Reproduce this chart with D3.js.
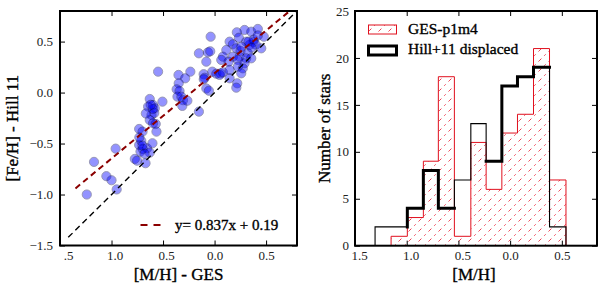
<!DOCTYPE html>
<html>
<head>
  <meta charset="utf-8"><script src="https://d3js.org/d3.v7.min.js"></script>
  <style>
    body { margin: 0; background: white; }
  </style>
</head>
<body>
  <svg id="mychart" width="600" height="285" style="background: white"></svg>
<script>
  // left panel: GES [M/H] vs Hill+11 [Fe/H]
  const gesMH = [
    -1.24, -1.17, -1.05, -1.00, -0.96, -0.95,
    -0.774, -0.752, -0.670, -0.732, -0.699, -0.732, -0.711, -0.719, -0.697, -0.655, -0.603, -0.629, -0.70, -0.68, -0.73,
    -0.629, -0.645, -0.597, -0.580, -0.506, -0.612, -0.585, -0.629, -0.597, -0.571, -0.564, -0.667, -0.60, -0.62,
    -0.548, -0.350, -0.235, -0.285, -0.348, -0.368, -0.340, -0.360, -0.322, -0.306, -0.313, -0.264, -0.152,
    -0.038, -0.152, -0.064, -0.042, -0.080, -0.106, -0.097, -0.022, -0.080, -0.055, 0.017, 0.058, -0.105,
    0.291, 0.216, 0.356, 0.420, 0.478, 0.378, 0.339, 0.236, 0.146, 0.178, 0.307, 0.453, 0.114, 0.211, 0.252,
    0.081, 0.065, 0.178, 0.242, 0.323, 0.307, 0.356, 0.136, 0.226, 0.291, 0.049, 0.081, 0.146, 0.226, 0.274,
    0.259, 0.146, 0.220, 0.211, 0.38, 0.40, 0.33, 0.36, 0.26, 0.42
  ]
  const hillFeH = [
    -1.00, -0.68, -0.82, -0.86, -0.55, -0.95,
    -0.651, -0.668, -0.693, -0.357, -0.383, -0.514, -0.475, -0.579, -0.553, -0.546, -0.497, -0.589, -0.52, -0.60, -0.44,
    -0.063, -0.138, -0.122, -0.154, -0.089, -0.220, -0.200, -0.269, -0.301, -0.308, -0.383, -0.205, -0.16, -0.12,
    0.205, 0.173, 0.205, 0.140, 0.091, 0.032, 0.015, -0.040, -0.040, -0.075, -0.131, -0.080, -0.187,
    0.548, 0.385, 0.395, 0.405, 0.303, 0.180, 0.145, 0.205, 0.040, 0.018, 0.185, 0.188, 0.130,
    0.614, 0.591, 0.597, 0.624, 0.548, 0.496, 0.467, 0.538, 0.499, 0.474, 0.499, 0.434, 0.418, 0.434, 0.408,
    0.352, 0.320, 0.352, 0.352, 0.385, 0.336, 0.336, 0.303, 0.320, 0.287, 0.173, 0.199, 0.222, 0.254, 0.238,
    0.189, 0.140, 0.091, 0.048, 0.52, 0.47, 0.50, 0.44, 0.45, 0.56
  ]
  const fitSlope = 0.837
  const fitIntercept = 0.19
  const fitRange = [-1.35, 0.9]
  const oneToOneRange = [-1.42, 0.9]
  const fitLabel = "y= 0.837x + 0.19"

  // right panel: histograms
  const binEdges = [-1.306, -1.151, -0.994, -0.839, -0.694, -0.539, -0.380, -0.232, -0.080, 0.071, 0.226, 0.381, 0.540]
  const gesCounts = [0, 1, 3, 9, 18, 1, 11, 6, 12, 14, 21, 7]
  const hillCounts = [2, 2, 4, 8, 4, 7, 13, 9, 17, 18, 19, 2]

  const scatterTicks = [-1.5, -1.0, -0.5, 0.0, 0.5]
  const scatterXLabels = [".5", "1.0", "0.5", "0.0", "0.5"]
  const scatterYLabels = ["\u22121.5", "\u22121.0", "\u22120.5", "0.0", "0.5"]
  const histXTicks = [-1.5, -1.0, -0.5, 0.0, 0.5]
  const histXLabels = ["1.5", "1.0", "0.5", "0.0", "0.5"]
  const histYTicks = [0, 5, 10, 15, 20, 25]

  const serif = "'Liberation Serif', serif"

  const svg = d3.select("#mychart")
  const defs = svg.append("defs")

  const label = (sel, size) => sel.style("font-family", serif).attr("font-size", size).attr("fill", "black")
  const heavy = sel => sel.attr("stroke", "black").attr("stroke-width", 0.35)

  // ---------- left panel ----------
  const L = {left: 60, right: 297, top: 11, bottom: 245.5}
  const x1 = d3.scaleLinear().domain([-1.5, 0.8]).range([L.left, L.right])
  const y1 = d3.scaleLinear().domain([-1.5, 0.8]).range([L.bottom, L.top])

  defs.append("clipPath").attr("id", "clipL").append("rect")
    .attr("x", L.left).attr("y", L.top).attr("width", L.right - L.left).attr("height", L.bottom - L.top)

  const lp = svg.append("g").attr("clip-path", "url(#clipL)")

  lp.selectAll("circle")
    .data(gesMH.map((v, i) => [v, hillFeH[i]]))
    .join("circle")
      .attr("cx", d => x1(d[0]))
      .attr("cy", d => y1(d[1]))
      .attr("r", 4.6)
      .attr("fill", "#0000ff")
      .attr("stroke", "#000040")
      .attr("stroke-width", 0.9)
      .attr("opacity", 0.42)

  const line1 = d3.line().x(d => x1(d[0])).y(d => y1(d[1]))
  lp.append("path")
    .datum(oneToOneRange.map(v => [v, v]))
    .attr("fill", "none").attr("stroke", "black").attr("stroke-width", 1.4)
    .attr("stroke-dasharray", "6,4")
    .attr("d", line1)
  lp.append("path")
    .datum(fitRange.map(v => [v, fitSlope * v + fitIntercept]))
    .attr("fill", "none").attr("stroke", "#8b0000").attr("stroke-width", 2)
    .attr("stroke-dasharray", "6,4")
    .attr("d", line1)

  const tickStyle = g => {
    g.select(".domain").remove()
    g.selectAll(".tick line").attr("stroke", "black").attr("stroke-width", 1)
    g.selectAll(".tick text").call(label, 13).attr("fill", "#222")
  }

  svg.append("g").attr("transform", `translate(0,${L.bottom})`)
    .call(d3.axisBottom(x1).tickValues(scatterTicks).tickSize(-5).tickPadding(5)
      .tickFormat((d, i) => scatterXLabels[i]))
    .call(tickStyle)
    .call(g => g.selectAll(".tick text").attr("dx", (d, i) => i === 0 ? 8 : (d < 0 ? 3 : 0)))
  svg.append("g").attr("transform", `translate(0,${L.top})`)
    .call(d3.axisTop(x1).tickValues(scatterTicks).tickSize(-5).tickFormat(""))
    .call(tickStyle)
  svg.append("g").attr("transform", `translate(${L.left},0)`)
    .call(d3.axisLeft(y1).tickValues(scatterTicks).tickSize(-5).tickPadding(7)
      .tickFormat((d, i) => scatterYLabels[i]))
    .call(tickStyle)
  svg.append("g").attr("transform", `translate(${L.right},0)`)
    .call(d3.axisRight(y1).tickValues(scatterTicks).tickSize(-5).tickFormat(""))
    .call(tickStyle)

  svg.append("rect")
    .attr("x", L.left).attr("y", L.top).attr("width", L.right - L.left).attr("height", L.bottom - L.top)
    .attr("fill", "none").attr("stroke", "black").attr("stroke-width", 2)

  // legend (left)
  svg.append("line")
    .attr("x1", 140.5).attr("x2", 162).attr("y1", 225).attr("y2", 225)
    .attr("stroke", "#8b0000").attr("stroke-width", 2).attr("stroke-dasharray", "7,6")
  svg.append("text").attr("x", 175).attr("y", 230).call(label, 15).call(heavy).text(fitLabel)

  svg.append("text")
    .attr("transform", `translate(18,${(L.top + L.bottom) / 2}) rotate(-90)`)
    .attr("text-anchor", "middle").call(label, 17).call(heavy)
    .text("[Fe/H] - Hill 11")
  svg.append("text")
    .attr("x", (L.left + L.right) / 2).attr("y", 280)
    .attr("text-anchor", "middle").call(label, 17).call(heavy)
    .text("[M/H] - GES")

  // ---------- right panel ----------
  const R = {left: 355, right: 597, top: 11, bottom: 245.7}
  const x2 = d3.scaleLinear().domain([-1.5, 0.84]).range([R.left, R.right])
  const y2 = d3.scaleLinear().domain([0, 25]).range([R.bottom, R.top])

  const hatch = defs.append("pattern").attr("id", "hatch")
    .attr("patternUnits", "userSpaceOnUse").attr("width", 10).attr("height", 10)
  hatch.append("path")
    .attr("d", "M-2,2 L2,-2 M0,10 L10,0 M8,12 L12,8")
    .attr("stroke", "#e8001a").attr("stroke-width", 0.9).attr("stroke-opacity", 0.85)
    .attr("stroke-dasharray", "2,4")

  const step = d3.line().x(d => x2(d[0])).y(d => y2(d[1])).curve(d3.curveStepAfter)
  const stepPoints = (counts, from, to) => {
    const pts = [[binEdges[from], 0]]
    for (let i = from; i <= to; i++) pts.push([binEdges[i], counts[i]])
    pts.push([binEdges[to + 1], counts[to]], [binEdges[to + 1], 0])
    return pts
  }

  const gesPts = stepPoints(gesCounts, 1, gesCounts.length - 1)
  svg.append("path").datum(gesPts).attr("fill", "url(#hatch)").attr("stroke", "none").attr("d", step)
  svg.append("path").datum(gesPts).attr("fill", "none").attr("stroke", "#e0101e").attr("stroke-width", 1).attr("d", step)

  svg.append("path").datum(stepPoints(hillCounts, 0, hillCounts.length - 1))
    .attr("fill", "none").attr("stroke", "black").attr("stroke-width", 1.1).attr("d", step)

  // heavier parts of the Hill+11 outline
  const thickRuns = [[2, 4, true], [7, 10, false]]
  thickRuns.forEach(([a, b, withLeft]) => {
    const pts = [[binEdges[a], withLeft ? hillCounts[a - 1] : hillCounts[a]]]
    for (let i = a; i <= b; i++) pts.push([binEdges[i], hillCounts[i]])
    pts.push([binEdges[b + 1], hillCounts[b]])
    svg.append("path").datum(pts)
      .attr("fill", "none").attr("stroke", "black").attr("stroke-width", 3)
      .attr("stroke-linecap", "square").attr("d", step)
  })

  svg.append("g").attr("transform", `translate(0,${R.bottom})`)
    .call(d3.axisBottom(x2).tickValues(histXTicks).tickSize(-5).tickPadding(5)
      .tickFormat((d, i) => histXLabels[i]))
    .call(tickStyle)
    .call(g => g.selectAll(".tick text").attr("dx", d => d < 0 ? 4 : 0))
  svg.append("g").attr("transform", `translate(0,${R.top})`)
    .call(d3.axisTop(x2).tickValues(histXTicks).tickSize(-5).tickFormat(""))
    .call(tickStyle)
  svg.append("g").attr("transform", `translate(${R.left},0)`)
    .call(d3.axisLeft(y2).tickValues(histYTicks).tickSize(-5).tickPadding(6))
    .call(tickStyle)
  svg.append("g").attr("transform", `translate(${R.right},0)`)
    .call(d3.axisRight(y2).tickValues(histYTicks).tickSize(-5).tickFormat(""))
    .call(tickStyle)

  svg.append("rect")
    .attr("x", R.left).attr("y", R.top).attr("width", R.right - R.left).attr("height", R.bottom - R.top)
    .attr("fill", "none").attr("stroke", "black").attr("stroke-width", 2)

  // legend (right)
  svg.append("rect").attr("x", 368.5).attr("y", 25).attr("width", 28).attr("height", 9)
    .attr("fill", "url(#hatch)").attr("stroke", "#e0101e").attr("stroke-width", 1)
  svg.append("text").attr("x", 408).attr("y", 34).call(label, 15.5).call(heavy).text("GES-p1m4")
  svg.append("rect").attr("x", 368.5).attr("y", 46).attr("width", 28).attr("height", 9)
    .attr("fill", "white").attr("stroke", "black").attr("stroke-width", 3)
  svg.append("text").attr("x", 408).attr("y", 54).call(label, 15.5).call(heavy).text("Hill+11 displaced")

  svg.append("text")
    .attr("transform", `translate(330,${(R.top + R.bottom) / 2}) rotate(-90)`)
    .attr("text-anchor", "middle").call(label, 17).call(heavy)
    .text("Number of stars")
  svg.append("text")
    .attr("x", 474).attr("y", 280)
    .attr("text-anchor", "middle").call(label, 17).call(heavy)
    .text("[M/H]")
</script>
</body>
</html>
